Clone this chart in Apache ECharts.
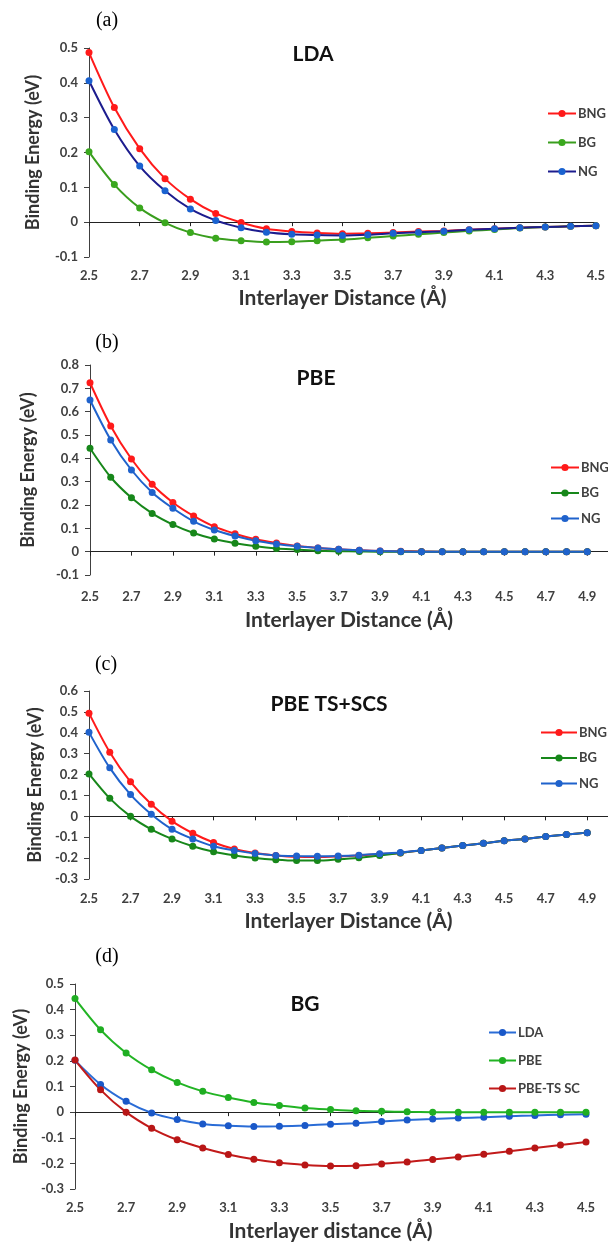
<!DOCTYPE html>
<html>
<head>
<meta charset="utf-8">
<script src="https://cdn.jsdelivr.net/npm/echarts@6/dist/echarts.min.js"></script>
<style>
html,body{margin:0;padding:0;background:#fff;}
#chart{width:608px;height:1243px;}
</style>
</head>
<body>
<div id="chart"></div>
<script>
// ---------- DATA ----------
// x categories (Å)
const xA = ['2.5','2.6','2.7','2.8','2.9','3.0','3.1','3.2','3.3','3.4','3.5','3.6','3.7','3.8','3.9','4.0','4.1','4.2','4.3','4.4','4.5'];
const xB = ['2.5','2.6','2.7','2.8','2.9','3.0','3.1','3.2','3.3','3.4','3.5','3.6','3.7','3.8','3.9','4.0','4.1','4.2','4.3','4.4','4.5','4.6','4.7','4.8','4.9','5.0'];
const xC = xB;
const xD = xA;

// (a) LDA
const aBNG = [0.487,0.329,0.211,0.125,0.066,0.025,-0.001,-0.019,-0.027,-0.031,-0.033,-0.032,-0.030,-0.027,-0.025,-0.022,-0.019,-0.016,-0.014,-0.012,-0.010];
const aBG  = [0.202,0.108,0.041,-0.002,-0.030,-0.046,-0.053,-0.057,-0.056,-0.053,-0.050,-0.045,-0.040,-0.035,-0.030,-0.025,-0.021,-0.017,-0.014,-0.012,-0.010];
const aNG  = [0.406,0.266,0.161,0.090,0.038,0.005,-0.016,-0.029,-0.035,-0.037,-0.038,-0.036,-0.032,-0.029,-0.026,-0.022,-0.019,-0.016,-0.014,-0.012,-0.010];

// (b) PBE
const bBNG = [0.724,0.539,0.397,0.289,0.211,0.153,0.107,0.077,0.053,0.037,0.024,0.016,0.010,0.006,0.003,0.002,0.001,0,0,0,0,0,0,0,0];
const bBG  = [0.443,0.319,0.231,0.164,0.116,0.080,0.054,0.036,0.023,0.014,0.009,0.004,0.002,0.001,0,0,0,0,0,0,0,0,0,0,0];
const bNG  = [0.650,0.479,0.350,0.254,0.186,0.130,0.093,0.067,0.047,0.033,0.023,0.016,0.010,0.006,0.003,0.001,0,0,0,0,0,0,0,0,0];

// (c) PBE TS+SCS
const cBNG = [0.494,0.307,0.165,0.058,-0.023,-0.081,-0.125,-0.156,-0.175,-0.187,-0.194,-0.195,-0.192,-0.187,-0.181,-0.175,-0.163,-0.152,-0.140,-0.129,-0.117,-0.108,-0.097,-0.087,-0.078];
const cBG  = [0.203,0.086,0.000,-0.062,-0.108,-0.143,-0.170,-0.187,-0.200,-0.208,-0.212,-0.212,-0.206,-0.198,-0.187,-0.175,-0.163,-0.152,-0.140,-0.129,-0.117,-0.108,-0.097,-0.087,-0.078];
const cNG  = [0.402,0.232,0.104,0.010,-0.062,-0.108,-0.143,-0.163,-0.178,-0.187,-0.190,-0.191,-0.190,-0.186,-0.179,-0.173,-0.163,-0.152,-0.140,-0.129,-0.117,-0.108,-0.097,-0.087,-0.078];

// (d) BG
const dLDA = [0.202,0.108,0.042,-0.003,-0.029,-0.046,-0.053,-0.056,-0.055,-0.052,-0.047,-0.043,-0.037,-0.031,-0.027,-0.023,-0.020,-0.016,-0.013,-0.010,-0.008];
const dPBE = [0.443,0.321,0.231,0.165,0.116,0.081,0.057,0.038,0.026,0.016,0.010,0.005,0.003,0.001,0,0,0,0,0,0,0];
const dTS  = [0.203,0.087,0.000,-0.063,-0.108,-0.140,-0.165,-0.184,-0.198,-0.206,-0.210,-0.209,-0.202,-0.195,-0.185,-0.175,-0.164,-0.153,-0.140,-0.128,-0.117];

// ---------- STYLE ----------
const FONT = 'Lato';
const TXT = '#404040';

const grids = [
  {left:89, top:48,  width:513, height:209},
  {left:90, top:365, width:520, height:210},
  {left:89, top:691, width:520, height:188},
  {left:75, top:984, width:511, height:205}
];
const yRanges = [[-0.1,0.5],[-0.1,0.8],[-0.3,0.6],[-0.3,0.5]];
const cats = [xA, xB, xC, xD];
const yNameGap = [47, 53, 45, 43];
const xLabelMargin = [12, 15, 13, 12];
const xNameGap = [31, 35, 32, 32];
const xNames = ['Interlayer Distance (Å)','Interlayer Distance (Å)','Interlayer Distance (Å)','Interlayer distance (Å)'];

const xAxes = [], yAxes = [];
for (let g = 0; g < 4; g++) {
  // axis line at zero with ticks
  xAxes.push({
    gridIndex:g, type:'category', data:cats[g], boundaryGap:false, position:'bottom',
    axisLine:{show:true, onZero:true, lineStyle:{color:'#222', width:1}},
    axisTick:{show:true, length:4, interval:function(i){return i%2===0;}, lineStyle:{color:'#222'}},
    axisLabel:{show:false}, splitLine:{show:false}
  });
  // labels at the bottom of plot
  xAxes.push({
    gridIndex:g, type:'category', data:cats[g], boundaryGap:false, position:'bottom',
    axisLine:{show:false, onZero:false}, axisTick:{show:false},
    axisLabel:{show:true, interval:function(i){return i%2===0;}, margin:xLabelMargin[g],
      fontFamily:FONT, fontWeight:'bold', fontSize:13, color:TXT},
    name:xNames[g], nameLocation:'middle', nameGap:xNameGap[g],
    nameTextStyle:{fontFamily:FONT, fontWeight:'bold', fontSize:21, color:'#333'},
    splitLine:{show:false}
  });
  yAxes.push({
    gridIndex:g, type:'value', min:yRanges[g][0], max:yRanges[g][1], interval:0.1,
    axisLine:{show:true, lineStyle:{color:'#404040', width:1}},
    axisTick:{show:true, length:5, lineStyle:{color:'#404040'}},
    axisLabel:{margin:11, fontFamily:FONT, fontWeight:'bold', fontSize:13, color:TXT,
      formatter:function(v){ const r = Math.round(v*10)/10; return r===0 ? '0' : String(r); }},
    splitLine:{show:false},
    name:'Binding Energy (eV)', nameLocation:'middle', nameGap:yNameGap[g], nameRotate:90,
    nameTextStyle:{fontFamily:FONT, fontWeight:'bold', fontSize:18, color:'#333'}
  });
}

function ser(name, g, data, lineColor, markColor) {
  return {
    name:name, type:'line', xAxisIndex:g*2, yAxisIndex:g, data:data,
    smooth:0.3, symbol:'circle', symbolSize:7, showSymbol:true,
    lineStyle:{color:lineColor, width:2},
    itemStyle:{color:markColor || lineColor},
    emphasis:{disabled:true}, animation:false
  };
}

const RED = '#ff1a1a';
const series = [
  ser('a|BNG', 0, aBNG, RED),
  ser('a|BG', 0, aBG, '#3a9e1e', '#3aa81e'),
  ser('a|NG', 0, aNG, '#1c1c8e', '#1a62d0'),
  ser('b|BNG', 1, bBNG, RED),
  ser('b|BG', 1, bBG, '#17871a'),
  ser('b|NG', 1, bNG, '#1f62cc'),
  ser('c|BNG', 2, cBNG, RED),
  ser('c|BG', 2, cBG, '#17871a'),
  ser('c|NG', 2, cNG, '#1f62cc'),
  ser('d|LDA', 3, dLDA, '#2a6cd6', '#1a58c8'),
  ser('d|PBE', 3, dPBE, '#22b424', '#1fae22'),
  ser('d|PBE-TS SC', 3, dTS, '#c21a1a', '#b81616')
];

function legend(names, left, top, gap, w) {
  return {
    data:names, orient:'vertical', left:left, top:top, itemGap:gap,
    itemWidth:w, itemHeight:9, selectedMode:false,
    formatter:function(n){ return n.split('|')[1]; },
    textStyle:{fontFamily:FONT, fontWeight:'bold', fontSize:13, color:TXT, padding:[0,0,0,-3]}
  };
}

const legends = [
  legend(['a|BNG','a|BG','a|NG'], 542, 102, 16, 28),
  legend(['b|BNG','b|BG','b|NG'], 545, 456, 12.5, 28),
  legend(['c|BNG','c|BG','c|NG'], 535, 721, 12.5, 36),
  legend(['d|LDA','d|PBE','d|PBE-TS SC'], 483, 1021, 15, 27)
];

function txt(s, x, y, size, family, weight, color) {
  return {type:'text', x:x, y:y, silent:true,
    style:{text:s, fill:color||'#000', font:(weight||'normal')+' '+size+'px '+family,
      textAlign:'center', textVerticalAlign:'middle'}};
}
const graphics = [
  txt('(a)', 107, 21, 20, '"Liberation Serif"'),
  txt('(b)', 107, 343, 20, '"Liberation Serif"'),
  txt('(c)', 106, 665, 20, '"Liberation Serif"'),
  txt('(d)', 107, 957, 20, '"Liberation Serif"'),
  txt('LDA', 313, 54, 21, FONT, 'bold', '#111'),
  txt('PBE', 316, 378, 21, FONT, 'bold', '#111'),
  txt('PBE TS+SCS', 329, 704, 21, FONT, 'bold', '#111'),
  txt('BG', 305, 1004, 21, FONT, 'bold', '#111')
];

const chart = echarts.init(document.getElementById('chart'), null, {renderer:'canvas'});
chart.setOption({
  animation:false,
  backgroundColor:'#ffffff',
  grid:grids,
  xAxis:xAxes,
  yAxis:yAxes,
  legend:legends,
  series:series,
  graphic:graphics
});
</script>
</body>
</html>
